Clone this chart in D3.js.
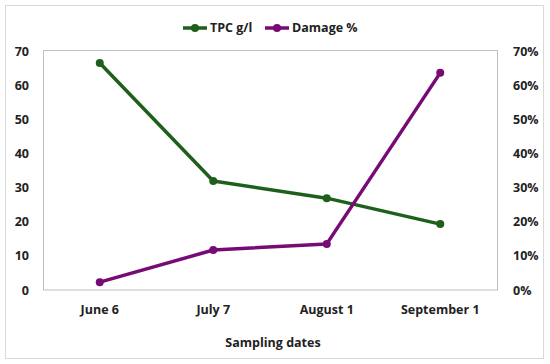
<!DOCTYPE html>
<html>
<head>
<meta charset="utf-8">
<script src="https://cdn.jsdelivr.net/npm/d3@7"></script>
<style>
	body { margin: 0; background: #fff; }
	text { font-family: 'Open Sans', 'Noto Sans', sans-serif; font-weight: bold; fill: #222; }
</style>
</head>
<body>
<div id="chart"></div>
<script>
	'use strict';
	// data
	var categories = ['June 6', 'July 7', 'August 1', 'September 1'];
	var tpcValues = [66.5, 31.9, 26.9, 19.3];
	var damageValues = [2.3, 11.7, 13.5, 63.6];
	var leftTicks = [0, 10, 20, 30, 40, 50, 60, 70];
	var rightTicks = [0, 10, 20, 30, 40, 50, 60, 70];

	var width = 550, height = 364;
	var margin = {top: 51, right: 53, bottom: 74, left: 43};

	var svg = d3.select('#chart')
		.append('svg')
		.attr('width', width)
		.attr('height', height);

	// outer frame
	svg.append('rect')
		.attr('x', 5.5).attr('y', 5.5)
		.attr('width', 538).attr('height', 353)
		.attr('fill', '#fff')
		.attr('stroke', '#d9d9d9');

	var x = d3.scaleBand()
		.domain(categories)
		.range([margin.left, width - margin.right]);
	var yL = d3.scaleLinear()
		.domain([0, 70])
		.range([height - margin.bottom, margin.top]);
	var yR = d3.scaleLinear()
		.domain([0, 70])
		.range([height - margin.bottom, margin.top]);

	// plot area border
	svg.append('rect')
		.attr('x', margin.left + 0.5)
		.attr('y', margin.top - 0.5)
		.attr('width', width - margin.right - margin.left)
		.attr('height', height - margin.bottom - margin.top + 0.5)
		.attr('fill', 'none')
		.attr('stroke', '#bfbfbf');

	// left axis
	var gl = svg.append('g')
		.attr('transform', 'translate(' + margin.left + ',0)')
		.call(d3.axisLeft(yL).tickValues(leftTicks).tickSize(0).tickPadding(14));
	gl.select('.domain').remove();
	gl.selectAll('text').style('font-size', '12.5px').attr('fill', '#222');

	// right axis
	var gr = svg.append('g')
		.attr('transform', 'translate(' + (width - margin.right) + ',0)')
		.call(d3.axisRight(yR).tickValues(rightTicks).tickSize(0).tickPadding(16)
			.tickFormat(function (d) { return d + '%'; }));
	gr.select('.domain').remove();
	gr.selectAll('text').style('font-size', '12.5px').attr('fill', '#222');

	// bottom axis
	var gb = svg.append('g')
		.attr('transform', 'translate(0,' + (height - margin.bottom) + ')')
		.call(d3.axisBottom(x).tickSize(0).tickPadding(15));
	gb.select('.domain').remove();
	gb.selectAll('text').style('font-size', '12.5px').attr('fill', '#222');

	svg.append('text')
		.attr('x', 273).attr('y', 347)
		.attr('text-anchor', 'middle')
		.style('font-size', '12.5px')
		.text('Sampling dates');

	var series = [
		{name: 'TPC g/l', values: tpcValues, color: '#1f5f1c'},
		{name: 'Damage %', values: damageValues, color: '#780a76'}
	];

	var line = d3.line()
		.x(function (d, i) { return x(categories[i]) + x.bandwidth() / 2; })
		.y(function (d) { return yL(d); });

	series.forEach(function (s) {
		svg.append('path')
			.datum(s.values)
			.attr('fill', 'none')
			.attr('stroke', s.color)
			.attr('stroke-width', 3.5)
			.attr('stroke-linejoin', 'round')
			.attr('d', line);
		svg.selectAll(null)
			.data(s.values)
			.enter()
			.append('circle')
			.attr('cx', function (d, i) { return x(categories[i]) + x.bandwidth() / 2; })
			.attr('cy', function (d) { return yL(d); })
			.attr('r', 4)
			.attr('fill', s.color);
	});

	// legend
	var legendX = [183, 265];
	series.forEach(function (s, i) {
		var g = svg.append('g').attr('transform', 'translate(' + legendX[i] + ',28)');
		g.append('line')
			.attr('x1', 0).attr('x2', 24)
			.attr('stroke', s.color).attr('stroke-width', 3.5);
		g.append('circle').attr('cx', 12).attr('r', 4).attr('fill', s.color);
		g.append('text')
			.attr('x', 27).attr('dy', '0.35em')
			.style('font-size', '12.5px')
			.text(s.name);
	});
</script>
</body>
</html>
